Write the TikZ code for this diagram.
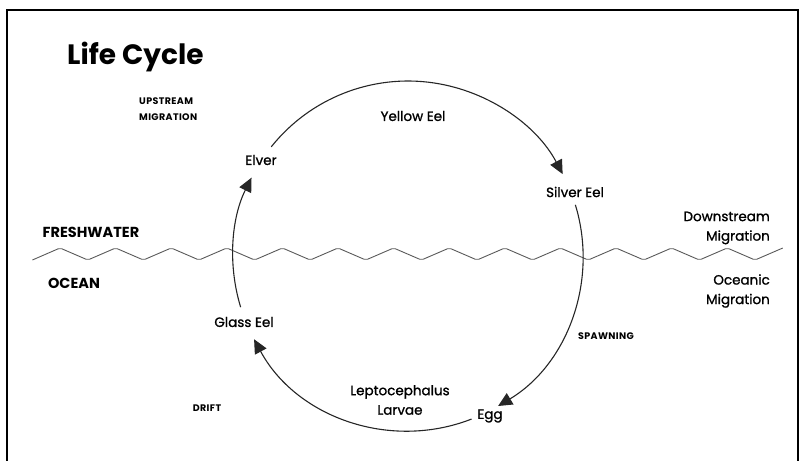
\documentclass[tikz,border=0pt]{standalone}
\usepackage{fontspec}
\setmainfont{Poppins}
\newfontfamily\stagefont[FakeBold=1.1]{Poppins}
\newfontfamily\phasefont[LetterSpace=4]{Poppins}
\usetikzlibrary{arrows.meta}
\tikzset{
  stage/.style={font=\stagefont\fontsize{13.5}{19.5}\selectfont, inner sep=1pt},
  phase/.style={font=\phasefont\bfseries\fontsize{9.5}{16}\selectfont, inner sep=1pt},
  zone/.style={font=\bfseries\fontsize{14.5}{16}\selectfont, inner sep=1pt},
  cycle/.style={line width=1.1pt, black!85, -{Triangle[length=14pt,width=13pt]}},
  wave/.style={line width=0.9pt, black!65, rounded corners=2pt}
}
\begin{document}
\begin{tikzpicture}[x=1pt,y=-1pt]
  \useasboundingbox (0,0) rectangle (802,460);
  \draw[line width=1.2pt] (7,461) -- (7,10) -- (798,10) -- (798,461);
  \draw[wave] (32.4,260) \foreach \k in {0,...,12}{ -- ({60+55.6*\k},248) -- ({87.8+55.6*\k},260)} -- (782.8,248);

  \node[anchor=west, inner sep=0pt, font=\bfseries\fontsize{28}{30}\selectfont] (title) at (67,57) {Life Cycle};
  \node[phase, anchor=west, align=left] (upstream) at (138,109) {UPSTREAM\\MIGRATION};
  \node[phase] (spawning) at (606,336) {SPAWNING};
  \node[phase] (drift) at (207,408) {DRIFT};
  \node[zone] (freshwater) at (91,232) {FRESHWATER};
  \node[zone] (ocean) at (74,283) {OCEAN};
  \node[stage, anchor=east, align=right] (downstream) at (771,228) {Downstream\\Migration};
  \node[stage, anchor=east, align=right] (oceanic) at (771,291) {Oceanic\\Migration};

  \node[stage] (elver) at (261,160) {Elver};
  \node[stage] (yellow) at (413,116) {Yellow Eel};
  \node[stage] (silver) at (575,192) {Silver Eel};
  \node[stage] (egg) at (490,416) {Egg};
  \node[stage, align=center] (larvae) at (400,400) {Leptocephalus\\Larvae};
  \node[stage] (glass) at (244,322) {Glass Eel};

  \coordinate (c) at (408,256);
  \coordinate (elverout) at ([shift={(218.6:175)}]c);
  \coordinate (silverout) at ([shift={(343:175)}]c);
  \coordinate (eggout) at ([shift={(68.7:175)}]c);
  \coordinate (glassout) at ([shift={(163:175)}]c);
  \begin{scope}[cycle]
    \draw (elverout) arc[start angle=218.6, end angle=332.1, radius=175];
    \draw (silverout) arc[start angle=343, end angle=419, radius=175];
    \draw (eggout) arc[start angle=68.7, end angle=151.6, radius=175];
    \draw (glassout) arc[start angle=163, end angle=206.6, radius=175];
  \end{scope}
\end{tikzpicture}
\end{document}
